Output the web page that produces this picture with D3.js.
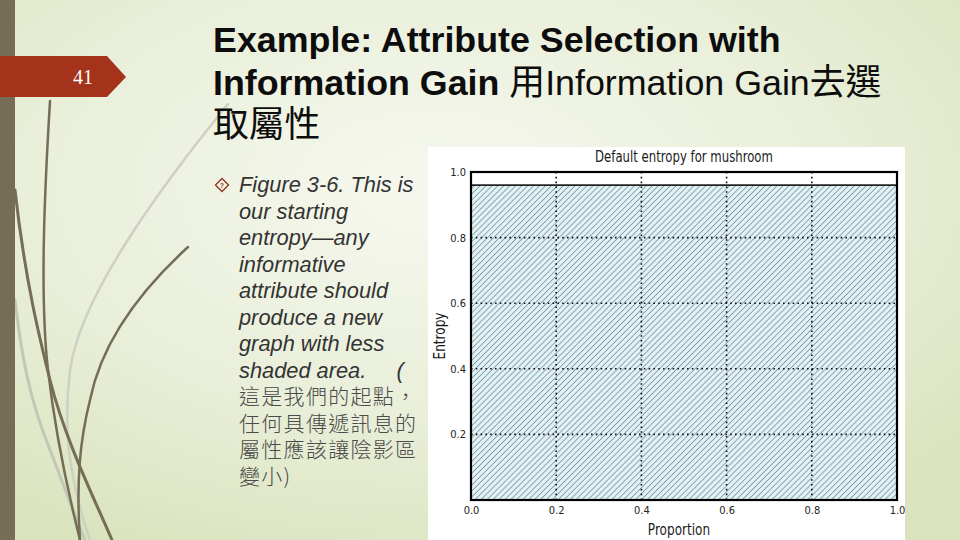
<!DOCTYPE html>
<html>
<head>
<meta charset="utf-8">
<script src="https://cdn.jsdelivr.net/npm/d3@7"></script>
<style>
  html, body { margin: 0; padding: 0; }
  body { width: 960px; height: 540px; overflow: hidden; }
</style>
</head>
<body>
<script>
// chart data
const segmentNames = ["all"];
const segmentProportions = [1.0];
const segmentEntropies = [0.96];
const xTicks = [0.0, 0.2, 0.4, 0.6, 0.8, 1.0];
const yTicks = [0.2, 0.4, 0.6, 0.8, 1.0];
const gridX = [0.2, 0.4, 0.6, 0.8];
const gridY = [0.2, 0.4, 0.6, 0.8];

const titleLines = [
  [{ t: "Example: Attribute Selection with", b: true }],
  [{ t: "Information Gain ", b: true }, { t: "用Information Gain去選", b: false }],
  [{ t: "取屬性", b: false }]
];
const bulletLines = [
  "Figure 3-6. This is",
  "our starting",
  "entropy\u2014any",
  "informative",
  "attribute should",
  "produce a new",
  "graph with less",
  "shaded area.\u00a0\u00a0\u00a0\u00a0 (",
  "這是我們的起點，",
  "任何具傳遞訊息的",
  "屬性應該讓陰影區",
  "變小)"
];

const W = 960, H = 540;
const svg = d3.select("body").append("svg")
  .attr("width", W)
  .attr("height", H);

const defs = svg.append("defs");

// slide background
const bg = defs.append("radialGradient")
  .attr("id", "bg")
  .attr("cx", "45%").attr("cy", "35%").attr("r", "75%");
bg.append("stop").attr("offset", "0%").attr("stop-color", "#f6f8ef");
bg.append("stop").attr("offset", "55%").attr("stop-color", "#e9efd9");
bg.append("stop").attr("offset", "100%").attr("stop-color", "#d9e3bd");

svg.append("rect").attr("width", W).attr("height", H).attr("fill", "url(#bg)");

// decorative swooshes on the left
const deco = svg.append("g").attr("fill", "none").attr("stroke-linecap", "round");
deco.append("path")
  .attr("d", "M228,104 C150,200 80,300 70,370 C64,420 66,470 90,540")
  .attr("stroke", "#cdd0c2").attr("stroke-width", 2.5);
deco.append("path")
  .attr("d", "M15,300 C22,360 30,400 50,450 C62,480 72,510 85,540")
  .attr("stroke", "#c3c7b6").attr("stroke-width", 3);
deco.append("path")
  .attr("d", "M50,101 C44,200 40,300 48,370 C56,440 70,500 80,540")
  .attr("stroke", "#766d56").attr("stroke-width", 2.5);
deco.append("path")
  .attr("d", "M15,190 C25,280 40,340 50,380 C65,440 95,500 112,540")
  .attr("stroke", "#766d56").attr("stroke-width", 3);
deco.append("path")
  .attr("d", "M188,247 C130,300 100,350 90,400 C80,440 76,480 80,540")
  .attr("stroke", "#766d56").attr("stroke-width", 2.5);

// left bar
svg.append("rect").attr("x", 0).attr("y", 0).attr("width", 15).attr("height", H)
  .attr("fill", "#766d56");

// slide number tag
svg.append("path")
  .attr("d", "M0,56 L107,56 L126,77 L107,97 L0,97 Z")
  .attr("fill", "#a5321a");
svg.append("text")
  .attr("x", 83).attr("y", 84)
  .attr("text-anchor", "middle")
  .attr("font-family", "'Liberation Serif', serif")
  .attr("font-size", 20)
  .attr("fill", "#ffffff")
  .text("41");

// title
const title = svg.append("text")
  .attr("font-family", "'Liberation Sans', 'Noto Sans CJK TC', sans-serif")
  .attr("font-size", 35.8)
  .attr("fill", "#0d0d0d");
titleLines.forEach(function(line, i) {
  const row = title.append("tspan").attr("x", 213).attr("y", 52 + i * 42.5);
  line.forEach(function(part, j) {
    const sp = j === 0 ? row : title.append("tspan");
    sp.attr("font-weight", part.b ? "bold" : "normal")
      .attr("font-family", part.b ? "'Liberation Sans', sans-serif"
                                  : "'Liberation Sans', 'Noto Sans CJK TC', sans-serif")
      .text(part.t);
  });
});

// bullet marker
const bullet = svg.append("g").attr("transform", "translate(222,185)");
bullet.append("path")
  .attr("d", "M0,-6.5 L6.5,0 L0,6.5 L-6.5,0 Z")
  .attr("fill", "#fbf3e6").attr("stroke", "#8a3a22").attr("stroke-width", 1.4);
bullet.append("text")
  .attr("text-anchor", "middle").attr("y", 3)
  .attr("font-family", "'Liberation Sans', sans-serif")
  .attr("font-size", 7).attr("font-weight", "bold")
  .attr("fill", "#8a3a22").text("?");

// bullet text, one text element per line
bulletLines.forEach(function(l, i) {
  const isCjk = /[\u4e00-\u9fff]/.test(l);
  svg.append("text")
    .attr("x", 239)
    .attr("y", 192 + i * 26.5)
    .attr("font-size", isCjk ? 21 : 21.8)
    .attr("letter-spacing", isCjk ? 1.3 : 0)
    .attr("font-style", isCjk ? "normal" : "italic")
    .attr("font-family", isCjk ? "'Noto Sans CJK TC', sans-serif" : "'Liberation Sans', sans-serif")
    .attr("font-weight", isCjk ? 300 : "normal")
    .attr("fill", isCjk ? "#4a4a4a" : "#333333")
    .text(l);
});

// ---- the embedded figure ----
svg.append("rect")
  .attr("x", 428).attr("y", 147).attr("width", 477).attr("height", 393)
  .attr("fill", "#ffffff");

const chartFont = "'DejaVu Sans Condensed', 'Liberation Sans Narrow', 'Liberation Sans', sans-serif";
const plot = { left: 471, right: 897, top: 172, bottom: 500 };

const x = d3.scaleLinear().domain([0, 1]).range([plot.left, plot.right]);
const y = d3.scaleLinear().domain([0, 1]).range([plot.bottom, plot.top]);

// hatch pattern
const hatch = defs.append("pattern")
  .attr("id", "hatch")
  .attr("patternUnits", "userSpaceOnUse")
  .attr("width", 4.2).attr("height", 4.2)
  .attr("patternTransform", "rotate(45)");
hatch.append("rect").attr("width", 4.2).attr("height", 4.2).attr("fill", "#e2f1f6");
hatch.append("line")
  .attr("x1", 0).attr("y1", 0).attr("x2", 0).attr("y2", 4.2)
  .attr("stroke", "#5f808b").attr("stroke-width", 1.3);

// segments: width = proportion, height = entropy
const segs = segmentNames.map(function(n, i) {
  const start = d3.sum(segmentProportions.slice(0, i));
  return { name: n, start: start, p: segmentProportions[i], e: segmentEntropies[i] };
});

svg.append("g").selectAll("rect")
  .data(segs)
  .enter()
  .append("rect")
  .attr("x", (d) => x(d.start))
  .attr("width", (d) => x(d.start + d.p) - x(d.start))
  .attr("y", (d) => y(d.e))
  .attr("height", (d) => y(0) - y(d.e))
  .attr("fill", "url(#hatch)")
  .attr("stroke", "#111")
  .attr("stroke-width", 1.6);

// dotted grid
const grid = svg.append("g")
  .attr("stroke", "#111")
  .attr("stroke-width", 1.6)
  .attr("stroke-dasharray", "1.6,3.2");
grid.selectAll("line.gx")
  .data(gridX)
  .enter()
  .append("line")
  .attr("class", "gx")
  .attr("x1", (d) => x(d)).attr("x2", (d) => x(d))
  .attr("y1", y(1)).attr("y2", y(0));
grid.selectAll("line.gy")
  .data(gridY)
  .enter()
  .append("line")
  .attr("class", "gy")
  .attr("y1", (d) => y(d)).attr("y2", (d) => y(d))
  .attr("x1", x(0)).attr("x2", x(1));

// frame
svg.append("rect")
  .attr("x", x(0)).attr("y", y(1))
  .attr("width", x(1) - x(0)).attr("height", y(0) - y(1))
  .attr("fill", "none")
  .attr("stroke", "#000")
  .attr("stroke-width", 2.2);

// axes (labels only)
const fmt = d3.format(".1f");
const xAxis = svg.append("g")
  .attr("transform", "translate(0," + (plot.bottom + 1) + ")")
  .call(d3.axisBottom(x).tickValues(xTicks).tickFormat(fmt).tickSize(0).tickPadding(5));
const yAxis = svg.append("g")
  .attr("transform", "translate(" + (plot.left - 1) + ",0)")
  .call(d3.axisLeft(y).tickValues(yTicks).tickFormat(fmt).tickSize(0).tickPadding(4));
[xAxis, yAxis].forEach(function(a) {
  a.select(".domain").remove();
  a.selectAll("text")
    .attr("font-family", chartFont)
    .attr("font-size", 11)
    .attr("fill", "#222");
});

// condensed labels: horizontally squeezed text
function squeezed(tx, ty, rot, size, str) {
  svg.append("g")
    .attr("transform", "translate(" + tx + "," + ty + ") rotate(" + rot + ") scale(0.84,1)")
    .append("text")
    .attr("text-anchor", "middle")
    .attr("font-family", chartFont)
    .attr("font-size", size)
    .attr("fill", "#1a1a1a")
    .text(str);
}
squeezed((plot.left + plot.right) / 2 + 0, 162, 0, 15.5, "Default entropy for mushroom");
squeezed((plot.left + plot.right) / 2 - 5, 535, 0, 16, "Proportion");
squeezed(445, (plot.top + plot.bottom) / 2, -90, 16, "Entropy");
</script>
</body>
</html>
